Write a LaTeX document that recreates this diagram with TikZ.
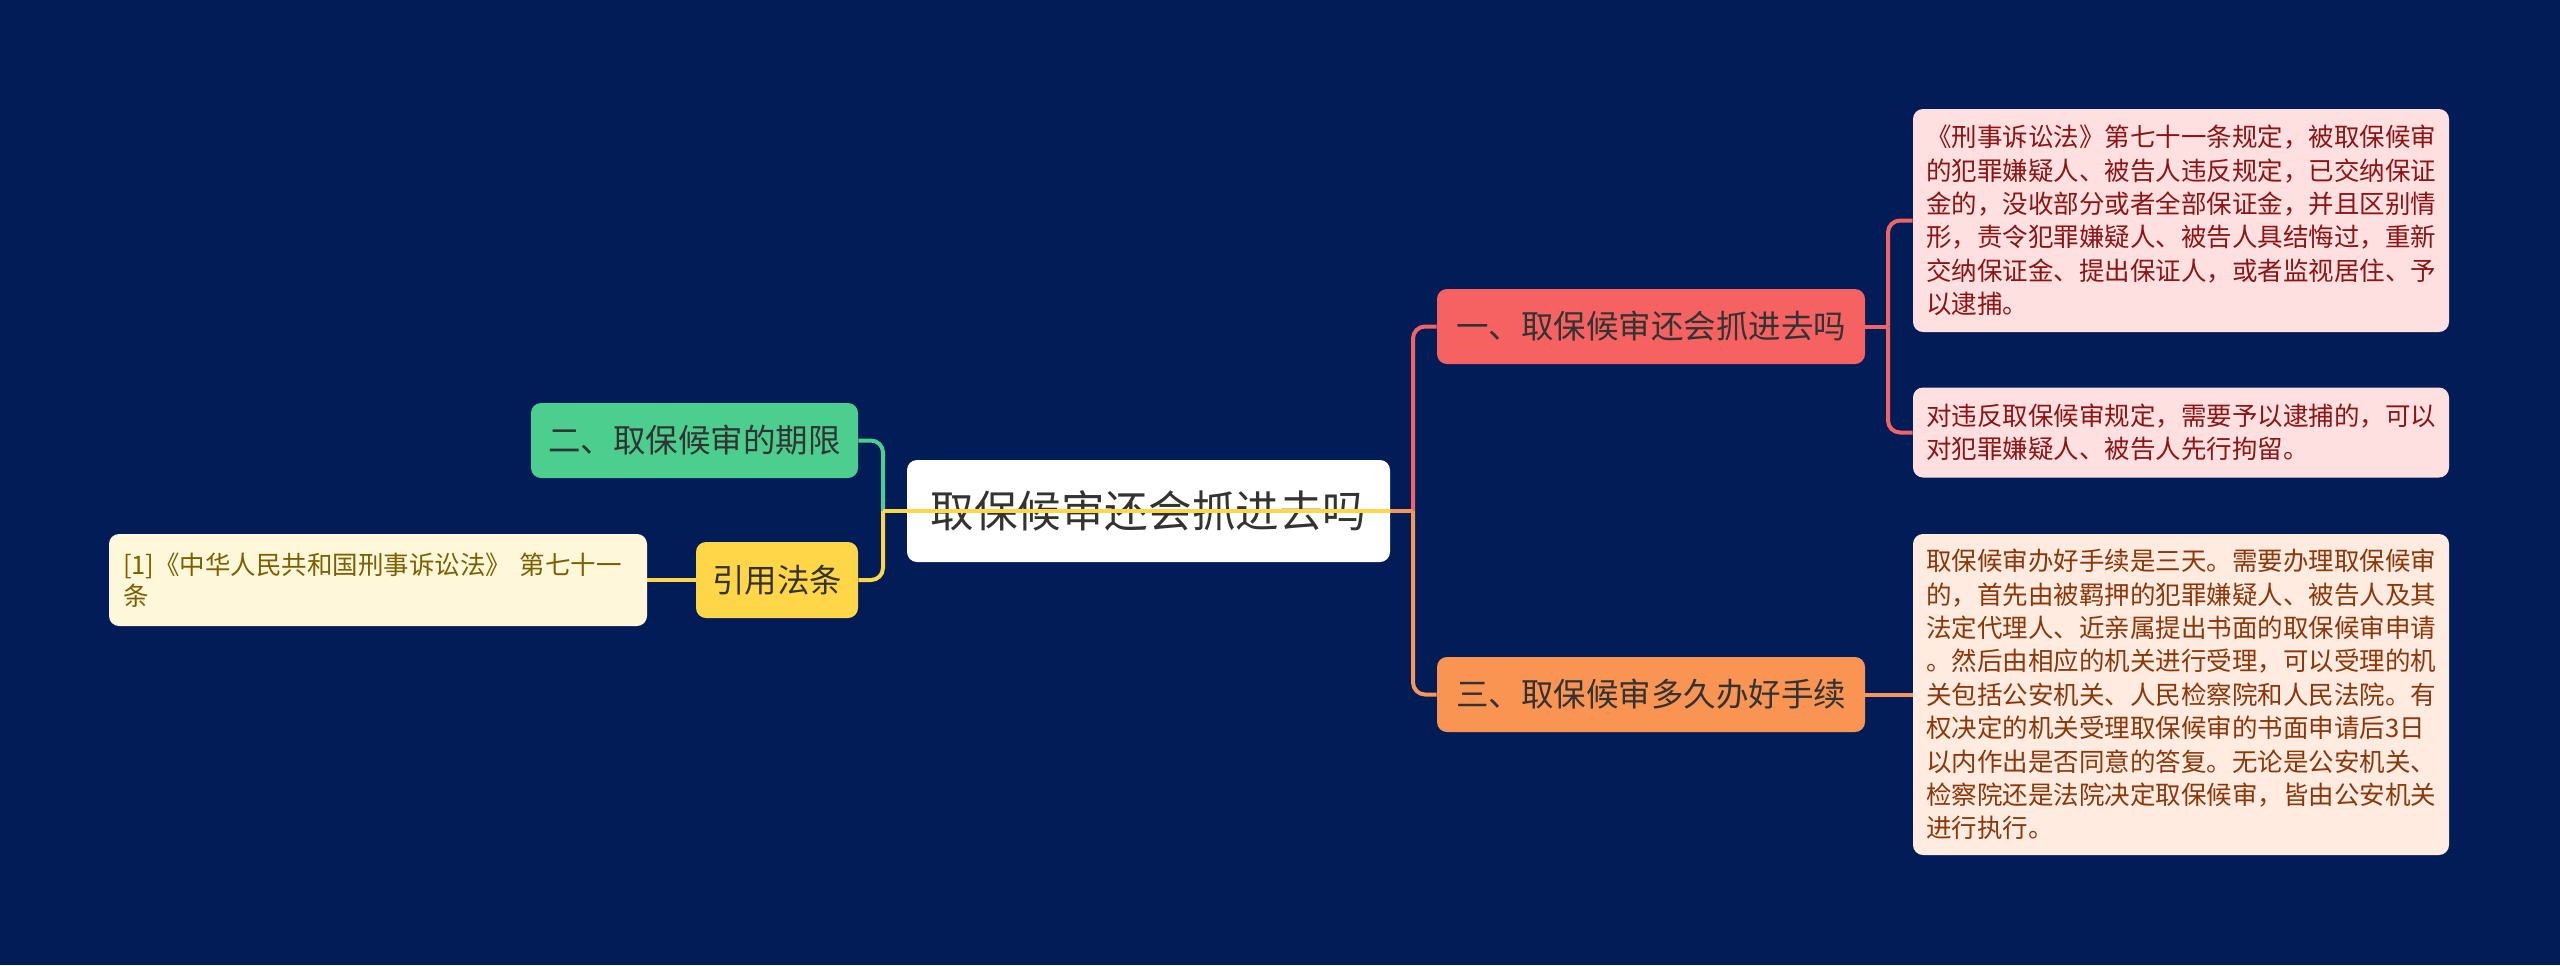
\documentclass[tikz,border=0pt]{standalone}
\usepackage{fontspec}
\setmainfont{Noto Sans CJK SC}
\usetikzlibrary{positioning}
\pgfdeclarelayer{bglayer}
\pgfsetlayers{bglayer,main}
\definecolor{bgc}{RGB}{1,28,87}
\definecolor{redn}{RGB}{246,98,98}
\definecolor{orn}{RGB}{250,148,82}
\definecolor{grn}{RGB}{76,206,143}
\definecolor{yeln}{RGB}{255,214,72}
\definecolor{pinkl}{RGB}{255,224,225}
\definecolor{peachl}{RGB}{255,235,224}
\definecolor{creaml}{RGB}{255,247,218}
\definecolor{redt}{RGB}{140,20,20}
\definecolor{brownt}{RGB}{140,55,10}
\definecolor{olivet}{RGB}{125,95,0}
\definecolor{darkt}{RGB}{51,51,51}
\definecolor{lnred}{RGB}{240,100,100}
\definecolor{lnor}{RGB}{248,150,90}
\tikzset{
  box/.style={rounded corners=5pt, inner sep=0pt, align=center},
  rootbox/.style={box, fill=white, text=darkt, minimum width=241.5pt, minimum height=51pt,
    font=\fontsize{21.8pt}{26pt}\selectfont},
  mainbox/.style={box, minimum height=37.5pt, text=black!80,
    font=\fontsize{16.25pt}{20pt}\selectfont},
  leafbox/.style={box, align=left, inner xsep=6.5pt, text width=255pt,
    font=\fontsize{12.75pt}{16.7pt}\selectfont},
  conn/.style={line width=2pt, rounded corners=6pt}
}
\begin{document}
\begin{tikzpicture}[x=0.5pt,y=-0.5pt]
\useasboundingbox (0,0) rectangle (2560,965);

\node[rootbox] (root) at (1148.5,511) {取保候审还会抓进去吗};
\node[mainbox, fill=redn, minimum width=214pt] (n1) at (1651,326.5) {一、取保候审还会抓进去吗};
\node[mainbox, fill=orn, minimum width=214pt] (n3) at (1651,694.5) {三、取保候审多久办好手续};
\node[mainbox, fill=grn, minimum width=163.5pt] (n2) at (694.5,440.5) {二、取保候审的期限};
\node[mainbox, fill=yeln, minimum width=81pt, minimum height=38pt] (yel) at (777,580) {引用法条};

\node[leafbox, fill=pinkl, text=redt, minimum height=111.5pt] (l1) at (2181,220.5)
 {《刑事诉讼法》第七十一条规定，被取保候审\\的犯罪嫌疑人、被告人违反规定，已交纳保证\\金的，没收部分或者全部保证金，并且区别情\\形，责令犯罪嫌疑人、被告人具结悔过，重新\\交纳保证金、提出保证人，或者监视居住、予\\以逮捕。};
\node[leafbox, fill=pinkl, text=redt, minimum height=45pt] (l2) at (2181,432.5)
 {对违反取保候审规定，需要予以逮捕的，可以\\对犯罪嫌疑人、被告人先行拘留。};
\node[leafbox, fill=peachl, text=brownt, minimum height=160.5pt] (l3) at (2181,694.5)
 {取保候审办好手续是三天。需要办理取保候审\\的，首先由被羁押的犯罪嫌疑人、被告人及其\\法定代理人、近亲属提出书面的取保候审申请\\。然后由相应的机关进行受理，可以受理的机\\关包括公安机关、人民检察院和人民法院。有\\权决定的机关受理取保候审的书面申请后3日\\以内作出是否同意的答复。无论是公安机关、\\检察院还是法院决定取保候审，皆由公安机关\\进行执行。};
\node[leafbox, fill=creaml, text=olivet, inner xsep=7pt, text width=255pt, minimum height=46pt,
  font=\fontsize{12.75pt}{15.8pt}\selectfont] (cit) at (378,580)
 {[1]《中华人民共和国刑事诉讼法》 第七十一\\条};

\coordinate (jr) at (1413,511);
\coordinate (jl) at (883,511);
\coordinate (jr2) at (1888,326.5);

\begin{pgfonlayer}{bglayer}
\fill[bgc] (0,0) rectangle (2560,965);
\draw[conn, lnred] (jr) |- (n1.west);
\draw[conn, lnor] (jr) |- (n3.west);
\draw[conn, lnor] (root.east) -- (jr);
\draw[conn, lnred] (n1.east) -- (jr2);
\draw[conn, lnred] (jr2) |- (l1.west);
\draw[conn, lnred] (jr2) |- (l2.west);
\draw[conn, lnor] (n3.east) -- (l3.west);
\draw[conn, grn] (jl) |- (n2.east);
\draw[conn, yeln] (jl) |- (yel.east);
\draw[conn, yeln] (yel.west) -- (cit.east);
\end{pgfonlayer}
\draw[conn, yeln] (jl) -- (root.east);
\end{tikzpicture}
\end{document}
